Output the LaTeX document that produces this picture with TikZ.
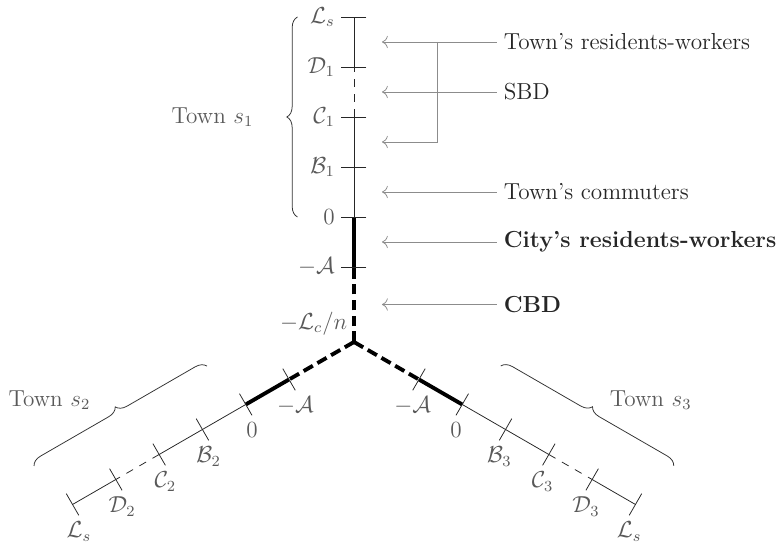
\documentclass[tikz,border=0pt]{standalone}
\usepackage{amsmath}
\usepackage{xcolor}
\usetikzlibrary{arrows.meta, decorations.pathreplacing, calc}

\begin{document}
\begin{tikzpicture}[
    x=0.91cm, y=0.91cm,
    every node/.style={font=\large},
    axis/.style={black!85},
    thindash/.style={black!85, dash pattern=on 4pt off 3.8pt},
    road/.style={black, line width=2pt},
    roaddash/.style={black, line width=2pt, dash pattern=on 5.5pt off 2.7pt},
    tick/.style={black!85},
    lbl/.style={text=black!65},
    desc/.style={text=black!85, anchor=west},
    arr/.style={-{To[length=3pt]}, black!45},
    brc/.style={decorate, decoration={brace, amplitude=5.5pt}, black!80}
]
\useasboundingbox (-7.08,-4.04) rectangle (8.48,6.84);
\coordinate (ctr) at (0,0);

% three branches, each laid along its own x axis
\foreach \ang/\i/\s/\anc in {90/1/1/east, 210/2/1/north, 330/3/-1/north}{
  \begin{scope}[rotate=\ang]
    \foreach \d/\n in {1.5/a, 2.5/o, 3.5/b, 4.5/c, 5.5/d, 6.5/l}
      \coordinate (\n\i) at (\d,0);
    \draw[roaddash] (ctr) -- (a\i);
    \draw[road] (a\i) -- (o\i);
    \draw[axis] (o\i) -- (c\i);
    \draw[thindash] (c\i) -- (d\i);
    \draw[axis] (d\i) -- (l\i);
    \foreach \d/\n/\t in {1.5/a/$-\mathcal{A}$, 2.5/o/$0$, 3.5/b/$\mathcal{B}_\i$, 4.5/c/$\mathcal{C}_\i$, 5.5/d/$\mathcal{D}_\i$, 6.5/l/$\mathcal{L}_s$}{
      \draw[tick] (\d,-0.25) -- (\d,0.25);
      \node[lbl, anchor=\anc] (t\n\i) at (\d,0.25*\s) {\t};
    }
  \end{scope}
}
\node[lbl, above left] (lc) at (ctr) {$-\mathcal{L}_c/n$};

% towns
\draw[brc] (-1.13,2.5) -- node[lbl, midway, left=0.68cm] (town1) {Town $s_1$} (-1.13,6.5);
\draw[brc] ($(l2)+(-0.77,0.77)$) -- ($(o2)+(-0.77,0.77)$);
\draw[brc] ($(o3)+(0.77,0.77)$) -- ($(l3)+(0.77,0.77)$);
\node[lbl, anchor=east] (town2) at (-5.14,-1.16) {Town $s_2$};
\node[lbl, anchor=west] (town3) at (4.98,-1.16) {Town $s_3$};

% legend on the right
\node[desc] (trw) at (2.86,6) {Town's residents-workers};
\node[desc] (sbd) at (2.86,5) {SBD};
\node[desc] (tcm) at (2.86,3) {Town's commuters};
\node[desc] (crw) at (2.86,2) {\textbf{City's residents-workers}};
\node[desc] (cbd) at (2.86,0.75) {\textbf{CBD}};

\coordinate (ex) at (0.56,0);
\coordinate (bk) at (1.66,6);
\coordinate (e4) at (0.56,4);
\foreach \n in {trw, sbd, tcm, crw, cbd}
  \draw[arr] (\n.west) -- (\n.west -| ex);
\draw[arr] (bk) |- (e4);
\end{tikzpicture}
\end{document}
